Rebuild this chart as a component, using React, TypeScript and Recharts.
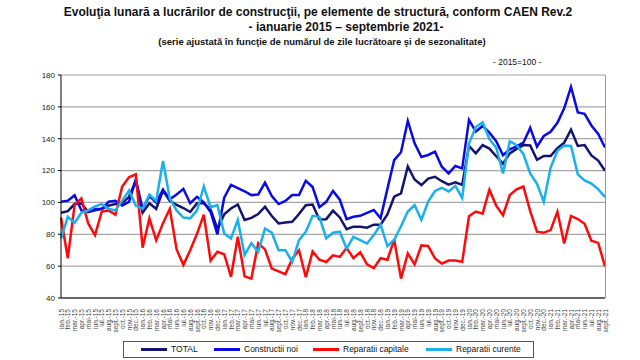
import React from 'react';
import { LineChart, Line, XAxis, YAxis, CartesianGrid } from 'recharts';

const MONTHS = ['ian.', 'feb.', 'mar.', 'apr.', 'mai', 'iun.', 'iul.', 'aug.', 'sept.', 'oct.', 'nov.', 'dec.'];
const YEARS = ['15', '16', '17', '18', '19', '20', '21'];
const Y_TICKS = [40, 60, 80, 100, 120, 140, 160, 180];

// ian. 2015 .. sept. 2021 (81 luni)
const categories: string[] = [];
YEARS.forEach(yr => MONTHS.forEach(m => categories.push(`${m}-${yr}`)));
categories.length = 81;

const total = [
  93.5, 94.5, 99, 99.5, 94, 95, 96, 98, 99, 99.5, 103.5, 113.5,
  93.5, 99.5, 96, 107.5, 101, 98.5, 96.5, 94, 99.5, 99.5, 95.5, 83.5,
  92.5, 96.2, 98.7, 89, 90.3, 92.7, 97.3, 91.5, 86.8, 87.4, 87.8, 92.7,
  98.3, 98.7, 89.3, 89.5, 94.8, 90.6, 83.2, 84.8, 84.7, 84.1, 86, 86,
  92.5, 103.6, 105.7, 122.6, 114.4, 110.9, 115, 116.1, 113.3, 111.2, 112.6, 111,
  135.5, 130.8, 136, 133.8, 129, 124.3, 130.8, 133.6, 136, 135.7, 126.8, 129.2,
  129.1, 134, 137.5, 145.7, 135.5, 136, 129.5, 126.3, 119.9,
];

const constructiiNoi = [
  100.5, 101, 104.5, 95, 94.5, 95.8, 95.8, 100.4, 101, 98, 100.4, 114.5,
  96, 104, 100, 108, 102, 105, 108.5, 99.5, 103.5, 100, 94, 80,
  103, 111, 109, 107, 104.6, 105, 112.4, 104, 99, 101, 104.6, 104.6,
  113.6, 109.7, 97, 100.4, 107.2, 101.7, 89.5, 91, 91.6, 93.5, 95.2, 90,
  108.5, 126.6, 131.5, 151.2, 137.1, 128.5, 129.8, 131.9, 122.4, 118.2, 122.9, 121.4,
  151.8, 144.5, 148, 143.8, 138.5, 129.6, 133.3, 135.2, 137.5, 146.8, 135, 141.7,
  144.4, 150, 159.1, 172.5, 156.5, 155.6, 148.3, 143, 134.5,
];

const reparatiiCapitale = [
  90.5, 65, 98.3, 102.5, 86.8, 79.5, 94.3, 95, 92.3, 110, 115.8, 117.6,
  71.6, 90, 76.2, 87, 96, 70.5, 60.8, 70, 80.3, 92.3, 63.5, 69,
  67.5, 53.3, 78.4, 53.6, 52.2, 74.4, 70.5, 58.5, 56.7, 55, 64.5, 70,
  53, 69.2, 64, 62.6, 66.8, 65.8, 71.5, 65, 68.8, 61.1, 58.7, 65,
  64, 76.6, 52.2, 68, 61.1, 73, 72.7, 64.8, 61.6, 63.5, 63.5, 62.7,
  91.3, 94.3, 93, 108, 98, 92, 104.6, 108.2, 110, 94.5, 81.6, 81,
  82.6, 94.1, 74.2, 91.5, 89.6, 86.6, 75.9, 74.6, 59.8,
];

const reparatiiCurente = [
  77.5, 91, 87.2, 93.5, 95, 97.5, 99, 96, 95, 101, 107.5, 98,
  96, 105, 101, 126, 102.5, 95, 90.5, 90, 95, 110, 97, 98.3,
  80.5, 77.4, 89, 67, 74.4, 69, 83.6, 81, 70, 70, 62.7, 76.3,
  81.6, 91.6, 91, 77.4, 81, 81.6, 71, 78.4, 76.3, 74.2, 79.5, 86,
  72.6, 76.6, 85, 94.3, 98.3, 89.1, 100.6, 107.2, 109.2, 106.9, 110.4, 102.8,
  137, 147.3, 150.3, 139.7, 134.5, 118.2, 138.4, 136, 130.3, 118.2, 111.7, 100.4,
  121.7, 132.4, 135.7, 135.5, 117.6, 113.8, 111.8, 108.3, 103.3,
];

const SERIES = [
  { key: 'total', name: 'TOTAL', color: '#14146e', values: total },
  { key: 'noi', name: 'Constructii noi', color: '#0a0ae6', values: constructiiNoi },
  { key: 'capitale', name: 'Reparatii capitale', color: '#ff0a0a', values: reparatiiCapitale },
  { key: 'curente', name: 'Reparatii curente', color: '#1ab0ec', values: reparatiiCurente },
];

const data = categories.map((month, i) => {
  const row: Record<string, string | number> = { month };
  SERIES.forEach(s => { row[s.key] = s.values[i]; });
  return row;
});

const FONT = 'Arial, "Liberation Sans", sans-serif';

const MonthTick = ({ x, y, payload }: any) => (
  <text
    x={x}
    y={y + 3}
    transform={`rotate(-90 ${x} ${y + 3})`}
    textAnchor="end"
    dominantBaseline="central"
    fontSize={6.5}
    fontFamily={FONT}
    fill="#444"
  >
    {payload.value}
  </text>
);

const legendPos = [17, 90, 189, 302];

const App: React.FC = () => {
  return (
    <div style={{ position: 'absolute', left: 0, top: 0, width: 640, height: 360, background: '#fff', fontFamily: FONT }}>
      <div style={{ position: 'absolute', left: 0, top: 5, width: 636, textAlign: 'center', fontWeight: 'bold', fontSize: 12, color: '#111' }}>
        Evoluţia lunară a lucrărilor de construcţii, pe elemente de structură, conform CAEN Rev.2
      </div>
      <div style={{ position: 'absolute', left: 0, top: 20, width: 692, textAlign: 'center', fontWeight: 'bold', fontSize: 12, color: '#111' }}>
        - ianuarie 2015 – septembrie 2021-
      </div>
      <div style={{ position: 'absolute', left: 0, top: 36, width: 644, textAlign: 'center', fontWeight: 'bold', fontSize: 9.5, color: '#111' }}>
        (serie ajustată în funcţie de numărul de zile lucrătoare şi de sezonalitate)
      </div>
      <div style={{ position: 'absolute', left: 493, top: 57, fontSize: 8.5, color: '#111' }}>- 2015=100 -</div>

      <LineChart width={640} height={360} data={data} margin={{ top: 75, right: 35, bottom: 0, left: 0 }}>
        <CartesianGrid vertical={false} stroke="#a6a6a6" strokeWidth={1.2} />
        <XAxis
          dataKey="month"
          interval={0}
          height={62}
          tick={<MonthTick />}
          tickLine={false}
          axisLine={{ stroke: '#000', strokeWidth: 1 }}
        />
        <YAxis
          width={61}
          domain={[40, 180]}
          ticks={Y_TICKS}
          tickSize={3}
          tickMargin={3}
          tick={{ fontSize: 8, fill: '#222', fontFamily: FONT }}
          tickLine={{ stroke: '#000' }}
          axisLine={{ stroke: '#000', strokeWidth: 1 }}
        />
        {SERIES.map(s => (
          <Line
            key={s.key}
            type="linear"
            dataKey={s.key}
            name={s.name}
            stroke={s.color}
            strokeWidth={2.5}
            dot={false}
            isAnimationActive={false}
          />
        ))}
      </LineChart>

      <div style={{ position: 'absolute', left: 605, top: 75, width: 1, height: 223, background: '#999' }} />

      <div style={{ position: 'absolute', left: 123, top: 341, width: 409, height: 15, border: '1px solid #555', fontSize: 8.5, color: '#111' }}>
        {SERIES.map((s, i) => (
          <div key={s.key} style={{ position: 'absolute', left: legendPos[i], top: 2, display: 'flex', alignItems: 'center', whiteSpace: 'nowrap' }}>
            <span style={{ display: 'inline-block', width: 26, height: 3, background: s.color, marginRight: 4 }} />
            {s.name}
          </div>
        ))}
      </div>
    </div>
  );
};

export default App;
